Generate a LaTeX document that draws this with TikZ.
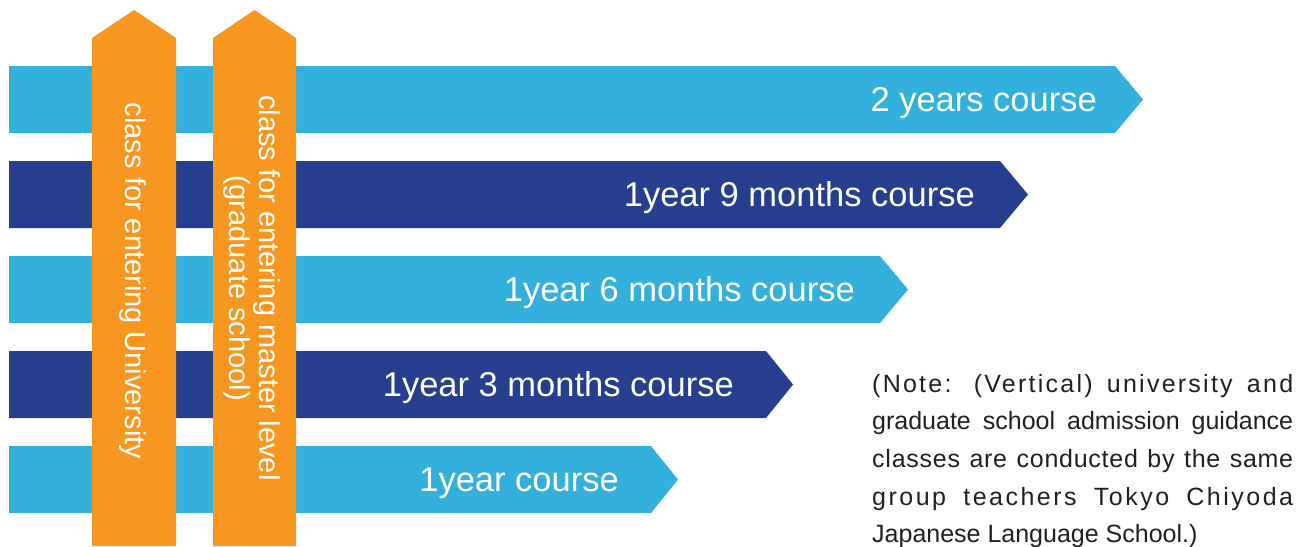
\documentclass[tikz,border=0pt]{standalone}
\usepackage{fontspec}
\setmainfont{Liberation Sans}
\usepackage{tikz}
\definecolor{sky}{HTML}{33B1DC}
\definecolor{navy}{HTML}{253F8E}
\definecolor{amber}{HTML}{F7971F}
\definecolor{ink}{HTML}{231F20}
\tikzset{
  lite/.style={fill=sky},
  dark/.style={fill=navy},
  uparr/.style={fill=amber},
  lab/.style={text=white, font=\fontsize{34.5}{40}\selectfont, inner sep=0pt, anchor=base east},
  vlab/.style={text=white, font=\fontsize{29}{30.5}\selectfont, inner sep=0pt, rotate=-90, align=center},
  note/.style={text=ink, font=\fontsize{25}{37.6}\selectfont, inner sep=0pt, align=left, anchor=north west},
}

\begin{document}
\begin{tikzpicture}[x=1pt, y=-1pt]
  \useasboundingbox (0,0) rectangle (1298,546);
  % course bars
  \fill[lite] (9,66)  -- (1115,66)  -- (1143,99.5)  -- (1115,133) -- (9,133) -- cycle;
  \fill[dark] (9,161) -- (1000,161) -- (1028,194.5) -- (1000,228) -- (9,228) -- cycle;
  \fill[lite] (9,256) -- (880,256)  -- (908,289.5)  -- (880,323)  -- (9,323) -- cycle;
  \fill[dark] (9,351) -- (766,351)  -- (793,384.5)  -- (766,418)  -- (9,418) -- cycle;
  \fill[lite] (9,446) -- (651,446)  -- (678,479.5)  -- (651,513)  -- (9,513) -- cycle;
  \node[lab] (y2)  at (1097,111.5) {2 years course};
  \node[lab] (y1m9) at (975,206.5) {1year 9 months course};
  \node[lab] (y1m6) at (855,301.5) {1year 6 months course};
  \node[lab] (y1m3) at (734,396.5) {1year 3 months course};
  \node[lab] (y1)  at (619,491.5) {1year course};
  % vertical classes
  \fill[uparr] (92,546) -- (92,38) -- (134,10) -- (176,38) -- (176,546) -- cycle;
  \fill[uparr] (213,546) -- (213,38) -- (254.5,10) -- (296,38) -- (296,546) -- cycle;
  \node[vlab] (univ) at (132.5,281) {class for entering University};
  \node[vlab] (grad) at (252,288) {class for entering master level\\(graduate school)};
  % note
  \node[note] (memo) at (872,374) {%
    \makebox[421pt][s]{\addfontfeature{LetterSpace=9}(Note: (Vertical) university and}\\
    \makebox[421pt][s]{graduate school admission guidance}\\
    \makebox[421pt][s]{\addfontfeature{LetterSpace=3}classes are conducted by the same}\\
    \makebox[421pt][s]{\addfontfeature{LetterSpace=10}group teachers Tokyo Chiyoda}\\
    Japanese Language School.)};
\end{tikzpicture}
\end{document}
